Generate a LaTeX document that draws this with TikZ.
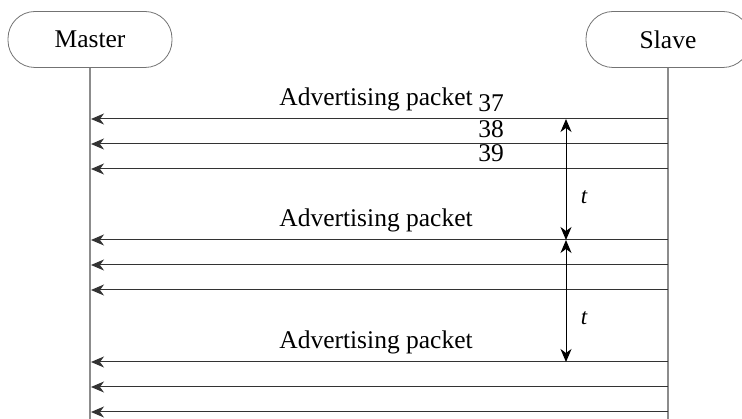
\documentclass[tikz,border=0pt]{standalone}
\usepackage{fontspec}
\setmainfont{Liberation Serif}
\usetikzlibrary{arrows.meta}
\begin{document}
\begin{tikzpicture}[x=1pt,y=-1pt,
 actor/.style={draw=black!55, line width=0.8pt, rounded corners=27pt, minimum width=164pt, minimum height=56pt, inner sep=0pt, font=\fontsize{25.5}{30}\selectfont},
 life/.style={draw=black!45, line width=1.1pt},
 msg/.style={draw=black!80, line width=1pt, -{Stealth[length=13pt,width=11pt,inset=4pt]}},
 lbl/.style={font=\fontsize{25.5}{30}\selectfont, inner sep=0pt, anchor=base},
 span/.style={draw=black, line width=1pt, {Stealth[length=13pt,width=11pt,inset=4pt]}-{Stealth[length=13pt,width=11pt,inset=4pt]}},
 tlbl/.style={font=\fontsize{23}{27}\selectfont\itshape, inner sep=0pt}]
\useasboundingbox (0,0) rectangle (742,419);
\clip (0,0) rectangle (742,419);
\node[actor] (master) at (90,39.5) {Master};
\node[actor] (slave) at (668,39.5) {Slave};
\coordinate (mend) at (90,419);
\coordinate (send) at (668,419);
\draw[life] (master.south) -- (mend);
\draw[life] (slave.south) -- (send);
\foreach \i/\y in {1/119,2/144,3/169,4/240,5/265,6/290,7/362,8/387,9/412}{
  \coordinate (m\i) at (91,\y);
  \coordinate (s\i) at (668,\y);
  \draw[msg] (s\i) -- (m\i);
}
\node[lbl] (adv1) at (376,106) {Advertising packet};
\node[lbl] (n37) at (491,112) {37};
\node[lbl] (n38) at (491,138) {38};
\node[lbl] (n39) at (491,162) {39};
\node[lbl] (adv2) at (376,227) {Advertising packet};
\node[lbl] (adv3) at (376,349) {Advertising packet};
\coordinate (v1) at (566,119);
\coordinate (v2) at (566,240);
\coordinate (v3) at (566,362);
\draw[span] (v1) -- (v2);
\draw[span] (v2) -- (v3);
\node[tlbl] (t1) at (584,197) {t};
\node[tlbl] (t2) at (584,318) {t};
\end{tikzpicture}
\end{document}
